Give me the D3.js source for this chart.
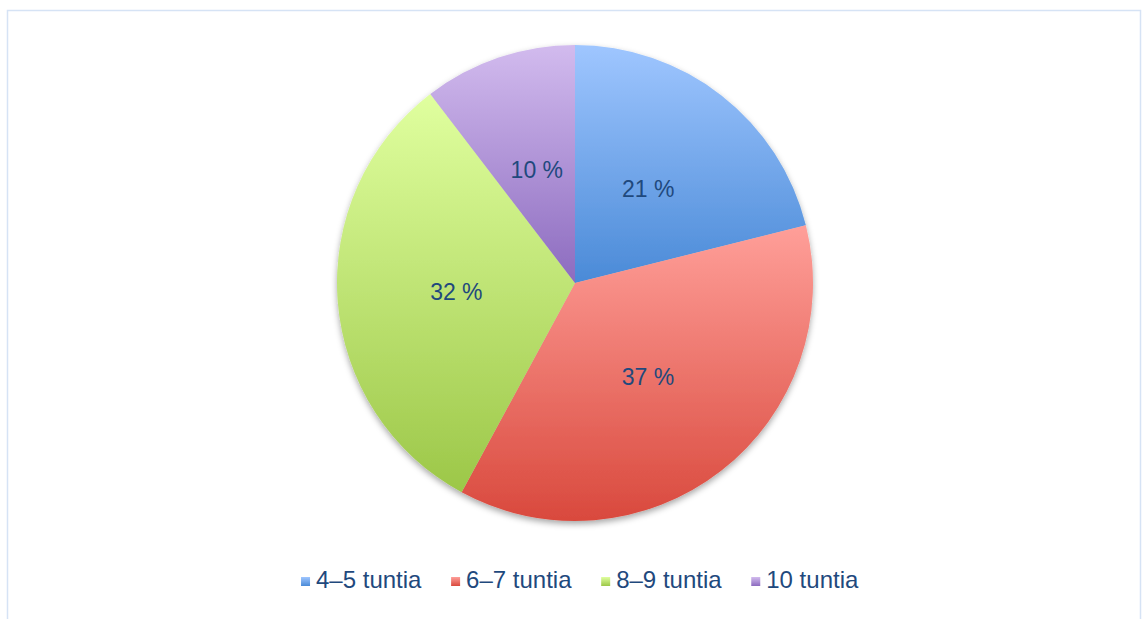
<html>
<meta charset="utf-8">
<script src="https://d3js.org/d3.v7.min.js"></script>
<style>
  body { margin: 0; background: #fff; }
</style>
<div id="chart"></div>
<script>
// values (shares in %, labels show them rounded)
let categories = ["4–5 tuntia", "6–7 tuntia", "8–9 tuntia", "10 tuntia"]
let values = [21.1, 36.8, 31.7, 10.4]
let lightColors = ["#9fc6ff", "#ff9f99", "#e0ff9f", "#d2bbee"]
let darkColors = ["#4a8ad7", "#d9493d", "#9cc748", "#8c6bbf"]

let width = 1142,
    height = 619,
    cx = 575,
    cy = 283,
    radius = 238

let svg = d3.select("#chart")
  .append("svg")
    .attr("width", width)
    .attr("height", height)

// outer frame
svg.append("rect")
  .attr("x", 7.5).attr("y", 10.5)
  .attr("width", 1133).attr("height", 640)
  .attr("fill", "none")
  .attr("stroke", "#d6e3f5")
  .attr("stroke-width", 1.5)

let defs = svg.append("defs")

let shadow = defs.append("filter").attr("id", "shadow")
  .attr("x", "-10%").attr("y", "-10%").attr("width", "120%").attr("height", "120%")
shadow.append("feDropShadow")
  .attr("dx", 0).attr("dy", 3).attr("stdDeviation", 3)
  .attr("flood-color", "#000").attr("flood-opacity", 0.35)

categories.forEach(function(c, i) {
  let g = defs.append("linearGradient")
    .attr("id", "grad" + i)
    .attr("x1", 0).attr("y1", 0).attr("x2", 0).attr("y2", 1)
  g.append("stop").attr("offset", "0%").attr("stop-color", lightColors[i])
  g.append("stop").attr("offset", "100%").attr("stop-color", darkColors[i])
})

let pie = d3.pie().sort(null).value(function(d) { return d })
let arcs = pie(values)

let arc = d3.arc().innerRadius(0).outerRadius(radius)
let labelArc = d3.arc().innerRadius(radius * 0.5).outerRadius(radius * 0.5)

let g = svg.append("g")
  .attr("transform", "translate(" + cx + "," + cy + ")")

g.append("g")
  .attr("filter", "url(#shadow)")
  .selectAll("path")
  .data(arcs)
  .enter()
  .append("path")
    .attr("d", arc)
    .attr("fill", function(d, i) { return "url(#grad" + i + ")" })

g.selectAll("text")
  .data(arcs)
  .enter()
  .append("text")
    .attr("transform", function(d) { return "translate(" + labelArc.centroid(d) + ")" })
    .attr("text-anchor", "middle")
    .attr("dy", "0.35em")
    .attr("font-family", "Liberation Sans, Arial, sans-serif")
    .attr("font-size", "23px")
    .attr("fill", "#1f497d")
    .text(function(d) { return Math.round(d.data) + " %" })

// legend
let legend = svg.append("g")
let items = legend.selectAll("g")
  .data(categories)
  .enter()
  .append("g")

items.append("rect")
  .attr("width", 9).attr("height", 9)
  .attr("y", -11)
  .attr("fill", function(d, i) { return "url(#grad" + i + ")" })

items.append("text")
  .attr("x", 15)
  .attr("font-family", "Liberation Sans, Arial, sans-serif")
  .attr("font-size", "24px")
  .attr("fill", "#1f497d")
  .text(function(d) { return d })

let x = 0
items.each(function() {
  let w = this.getBBox().width
  d3.select(this).attr("transform", "translate(" + x + ",0)")
  x += w + 29
})
let total = x - 29
legend.attr("transform", "translate(" + (580 - total / 2) + ",588)")
</script>
</html>
